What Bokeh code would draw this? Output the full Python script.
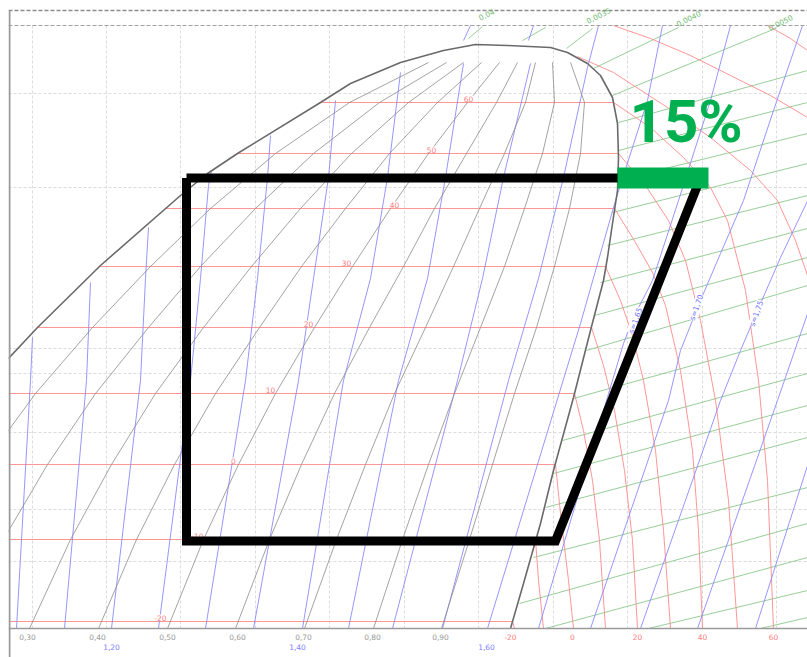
from bokeh.plotting import figure
from bokeh.models import Range1d
from bokeh.embed import file_html
from bokeh.resources import INLINE
from bokeh.core.properties import value

# ---------------- data (chart units: h along x, log p along y, top = high p) ----------------
# saturation boundary (liquid line -> top -> vapour line)
dome_x = [8, 37, 100, 180, 207, 237, 320, 350, 400, 443, 475, 507, 550, 567, 587, 600, 612, 617,
          618, 617, 612, 607, 603, 590, 573, 553, 540, 523, 510]
dome_y = [358, 327, 265, 195, 173, 153, 102, 83, 62, 50, 44, 45, 47, 52, 63, 75, 97, 123,
          157, 190, 223, 257, 280, 330, 397, 470, 523, 583, 628]

# constant quality lines (x at the levels in quality_y)
quality_y = [62, 102, 153, 208, 266, 327, 393, 464, 539, 628]
quality_x = [
    [428, 349, 275, 210, 150, 92, 35, -17, -64, -108],
    [446, 379, 313, 255, 200, 148, 95, 47, 3, -40],
    [463, 408, 351, 300, 251, 203, 155, 111, 70, 29],
    [481, 437, 389, 345, 301, 259, 215, 174, 136, 98],
    [499, 467, 428, 390, 352, 314, 275, 238, 203, 167],
    [517, 496, 466, 434, 403, 369, 334, 301, 269, 235],
    [535, 525, 504, 479, 453, 425, 394, 365, 336, 304],
    [552, 554, 542, 524, 504, 480, 454, 428, 402, 373],
    [570, 584, 580, 569, 554, 536, 514, 492, 469, 441],
]
quality_labels = ["0,30", "0,40", "0,50", "0,60", "0,70", "0,80", "0,90"]
quality_label_x = [27, 97, 167, 237, 303, 372, 440]

# isotherms (°C): two-phase plateau + superheated branch
iso_T = [60, 50, 40, 30, 20, 10, 0, -10, -20]
iso_x = [
    [320, 613, 650, 683, 710, 727, 745, 758, 767, 773],
    [237, 618, 645, 668, 685, 700, 715, 728, 737],
    [165, 614, 635, 652, 665, 680, 692, 698, 702],
    [99, 605, 620, 632, 643, 655, 663, 670],
    [37, 591, 603, 614, 624, 632, 637],
    [8, 574, 583, 592, 599, 605],
    [8, 555, 560, 568, 573],
    [8, 535, 538, 543],
    [8, 512, 514],
]
iso_y = [
    [102, 102, 127, 157, 187, 220, 290, 380, 480, 628],
    [153, 153, 185, 220, 260, 320, 400, 500, 628],
    [208, 208, 242, 272, 305, 370, 450, 530, 628],
    [266, 266, 300, 335, 380, 450, 530, 628],
    [327, 327, 365, 410, 470, 540, 628],
    [393, 393, 430, 480, 540, 628],
    [464, 464, 513, 580, 628],
    [539, 539, 580, 628],
    [621, 621, 628],
]
iso_label_x = [468, 431, 394, 346, 308, 270, 233, 197, 160]
hot_iso_x = [[577, 613, 667, 710, 750, 777, 795, 807],
             [613, 650, 690, 730, 770, 807],
             [767, 790, 807]]
hot_iso_y = [[56, 72, 107, 137, 170, 200, 240, 275],
             [25, 38, 55, 75, 95, 117],
             [25, 38, 50]]
temp_axis_labels = ["-20", "0", "20", "40", "60"]
temp_axis_x = [510, 572, 637, 702, 773]

# isentropes (kJ/kg K)
ent_x = [
    [32, 30, 16], [90, 86, 64], [148, 145, 140, 111], [211, 208, 200, 190, 158],
    [270, 267, 257, 245, 205], [335, 328, 313, 298, 253], [400, 387, 370, 343, 302],
    [463, 445, 427, 398, 348], [530, 503, 482, 457, 392], [598, 587, 563, 538, 508, 442],
    [662, 647, 615, 580, 487], [730, 710, 678, 652, 633, 623, 538],
    [802, 773, 743, 720, 700, 680, 668, 590], [812, 780, 757, 740, 720, 640],
    [815, 777, 697], [815, 755], [470, 463], [533, 528],
]
ent_y = [
    [337, 380, 628], [282, 380, 628], [227, 278, 380, 628], [170, 185, 278, 380, 628],
    [135, 177, 278, 380, 628], [100, 177, 278, 380, 628], [72, 177, 278, 380, 628],
    [63, 177, 278, 380, 628], [63, 177, 278, 380, 628], [25, 67, 177, 278, 380, 628],
    [25, 100, 200, 323, 628], [25, 100, 200, 280, 317, 343, 628],
    [25, 110, 200, 253, 300, 350, 400, 628], [190, 257, 310, 350, 400, 628],
    [290, 400, 628], [440, 628], [25, 40], [25, 40],
]
ent_axis_labels = ["1,20", "1,40", "1,60"]
ent_axis_x = [111, 297, 486]
ent_tags = ["s=1,65", "s=1,70", "s=1,75"]
ent_tag_x = [635, 696, 756]
ent_tag_y = [320, 307, 313]

# isochores (m3/kg)
vol_x0 = [468, 522, 566, 593, 612, 618, 618, 616, 612, 607, 600, 594, 586, 573, 562, 553, 545, 533, 519, 545, 648, 760]
vol_y0 = [38, 40, 48, 68, 95, 122, 150, 180, 212, 245, 282, 315, 350, 398, 440, 473, 507, 557, 603, 628, 628, 628]
vol_x1 = [482, 545, 592, 678, 775, 807, 807, 807, 807, 807, 807, 807, 807, 807, 807, 807, 807, 807, 807, 807, 807, 807]
vol_y1 = [26, 27, 28, 27, 28, 70, 102, 133, 163, 195, 228, 257, 285, 333, 373, 405, 437, 487, 523, 557, 590, 617]
vol_labels = ["0,04", "0,0035", "0,0040", "0,0050"]
vol_label_x = [486, 598, 688, 780]
vol_label_y = [14, 15, 18, 22]

# grid
grid_vx = [32, 106, 180, 255, 329, 404, 478, 553, 627, 702, 776]
grid_hy = [93, 187, 348, 373, 432, 509, 561]

# overlaid refrigeration cycle and loss marker
cycle_x = [186, 700, 555, 186, 186]
cycle_y = [177.5, 177.5, 540.5, 540.5, 177.5]
loss_left, loss_right, loss_top, loss_bottom = 617, 708, 167, 188
loss_text = "15%"

# ---------------- figure ----------------
p = figure(width=807, height=657, x_range=Range1d(8, 807), y_range=Range1d(657, 0),
           output_backend="svg", toolbar_location=None,
           x_axis_location=None, y_axis_location=None,
           min_border_left=8, min_border_right=0, min_border_top=0, min_border_bottom=0,
           outline_line_color=None, background_fill_color="white", border_fill_color="white")
p.grid.visible = False

# grid
p.segment(x0=grid_vx, y0=[25] * len(grid_vx), x1=grid_vx, y1=[628] * len(grid_vx),
          line_color="#dcdcdc", line_width=1, line_dash="3 2")
p.segment(x0=[8] * len(grid_hy), y0=grid_hy, x1=[807] * len(grid_hy), y1=grid_hy,
          line_color="#dcdcdc", line_width=1, line_dash="3 2")

# isochores
p.segment(x0=vol_x0, y0=vol_y0, x1=vol_x1, y1=vol_y1, line_color="#8cc88c", line_width=0.9)
# isotherms
p.multi_line(xs=iso_x, ys=iso_y, line_color="#ff8a8a", line_width=0.9)
p.multi_line(xs=hot_iso_x, ys=hot_iso_y, line_color="#ff8a8a", line_width=0.9)
# isentropes
p.multi_line(xs=ent_x, ys=ent_y, line_color="#8a8aff", line_width=0.9)
# quality lines
p.multi_line(xs=quality_x, ys=[quality_y] * len(quality_x), line_color="#8c8c8c", line_width=0.8)
# saturation curve
p.line(dome_x, dome_y, line_color="#6a6a6a", line_width=1.6)

# frame lines
p.segment(x0=[8, 8], y0=[10, 25], x1=[807, 807], y1=[10, 25],
          line_color=["#8c8c8c", "#a0a0a0"], line_width=[1.5, 1], line_dash="4 2")
p.segment(x0=[9], y0=[10], x1=[9], y1=[657], line_color="#9a9a9a", line_width=2)
p.segment(x0=[8], y0=[628], x1=[807], y1=[628], line_color="#9a9a9a", line_width=1.5)

small = dict(text_font=value("DejaVu Sans"), text_font_size="7.5px", text_align="center")

# in-field isotherm labels
p.text(x=iso_label_x, y=[y[0] - 1 for y in iso_y], text=[str(t) for t in iso_T],
       text_color="#ff8080", text_baseline="bottom", background_fill_color="white", **small)
# isentrope tags
p.text(x=ent_tag_x, y=ent_tag_y, text=ent_tags, angle=1.22, text_color="#7070ff",
       text_baseline="middle", background_fill_color="white", **small)
# isochore labels
p.text(x=vol_label_x, y=vol_label_y, text=vol_labels, angle=0.45, text_color="#70b870",
       text_baseline="middle", **small)
# bottom labels
p.text(x=quality_label_x, y=[636] * len(quality_label_x), text=quality_labels,
       text_color="#999999", text_baseline="middle", **small)
p.text(x=temp_axis_x, y=[636] * len(temp_axis_x), text=temp_axis_labels,
       text_color="#ff8080", text_baseline="middle", **small)
p.text(x=ent_axis_x, y=[646] * len(ent_axis_x), text=ent_axis_labels,
       text_color="#8080ff", text_baseline="middle", **small)

# cycle overlay
p.line(cycle_x, cycle_y, line_color="black", line_width=9, line_join="miter")
p.quad(left=[loss_left], right=[loss_right], top=[loss_top], bottom=[loss_bottom],
       fill_color="#00b050", line_color=None)
p.text(x=[629], y=[121], text=[loss_text], text_font=value("Roboto"), text_font_style="bold",
       text_font_size="60px", text_color="#00b050", text_baseline="middle", text_align="left")

open("out.html", "w").write(file_html(p, INLINE))
